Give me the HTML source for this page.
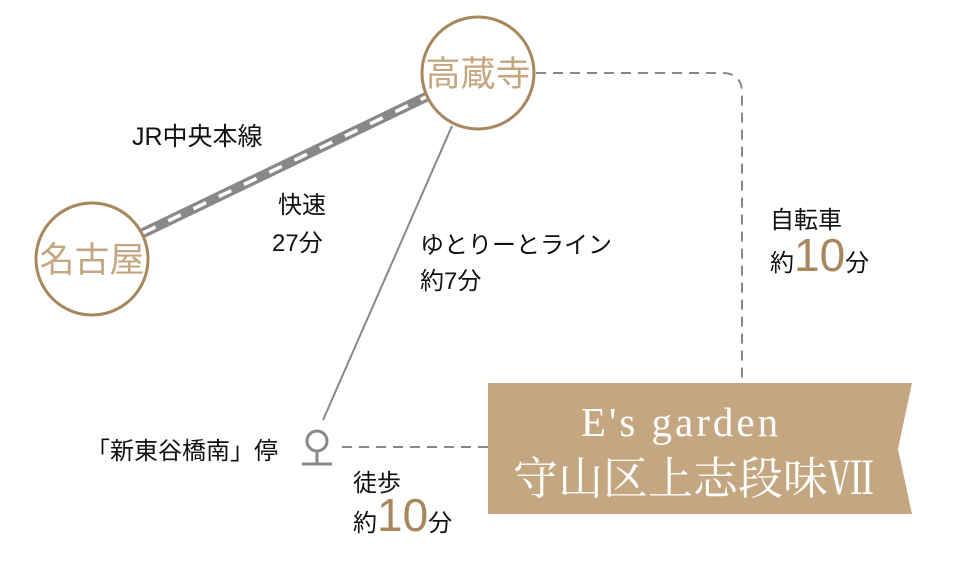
<!DOCTYPE html>
<html><head><meta charset="utf-8"><style>
body{margin:0;width:954px;height:565px;background:#fff;overflow:hidden;position:relative;font-family:"Liberation Sans","Noto Sans CJK JP",sans-serif;color:#111}
.t{position:absolute;font-size:24px;line-height:1;white-space:nowrap}
.big{color:#a7875b;font-size:46px;font-weight:300;line-height:0}
</style></head><body>
<svg width="954" height="565" style="position:absolute;left:0;top:0">
<line x1="143" y1="233" x2="428" y2="96" stroke="#888" stroke-width="10"/>
<line x1="143" y1="233" x2="428" y2="96" stroke="#fff" stroke-width="3.5" stroke-dasharray="14 14"/>
<line x1="452" y1="126" x2="323" y2="420" stroke="#888" stroke-width="2"/>
<path d="M536 73 H722 Q742 73 742 93 V383" fill="none" stroke="#888" stroke-width="2" stroke-dasharray="10 7"/>
<line x1="342" y1="447" x2="488" y2="447" stroke="#888" stroke-width="2" stroke-dasharray="10 7"/>
<circle cx="478" cy="73" r="56" fill="#fff" stroke="#a7875b" stroke-width="3"/>
<circle cx="92" cy="259" r="56" fill="#fff" stroke="#a7875b" stroke-width="3"/>
<circle cx="317" cy="441" r="10" fill="none" stroke="#888" stroke-width="3"/>
<line x1="317" y1="451" x2="317" y2="464" stroke="#888" stroke-width="3"/>
<line x1="302" y1="464" x2="332" y2="464" stroke="#888" stroke-width="3"/>
<path d="M488 383 H912 L898 449 L912 514 H488 Z" fill="#c4a781"/>
<text x="478" y="86" text-anchor="middle" font-family="Noto Sans CJK JP" font-size="35" fill="#c4a781">高蔵寺</text>
<text x="92" y="272" text-anchor="middle" font-family="Noto Sans CJK JP" font-size="35" fill="#c4a781">名古屋</text>
<text x="681" y="436" text-anchor="middle" font-family="Liberation Serif" font-size="41" fill="#fff" letter-spacing="3">E's garden</text>
<text x="693" y="494" text-anchor="middle" font-family="Noto Serif CJK SC,serif" font-size="45" fill="#fff">守山区上志段味Ⅶ</text>
</svg>
<div class="t" style="left:132px;top:125px;font-size:25px">JR中央本線</div>
<div class="t" style="left:278px;top:194px">快速</div>
<div class="t" style="left:272px;top:232px">27分</div>
<div class="t" style="left:420px;top:234px">ゆとりーとライン</div>
<div class="t" style="left:420px;top:270px">約7分</div>
<div class="t" style="left:770px;top:209px">自転車</div>
<div class="t" style="left:770px;top:252px">約<span class="big">10</span>分</div>
<div class="t" style="left:86px;top:440px">「新東谷橋南」停</div>
<div class="t" style="left:353px;top:472px">徒歩</div>
<div class="t" style="left:353px;top:512px">約<span class="big">10</span>分</div>
</body></html>
